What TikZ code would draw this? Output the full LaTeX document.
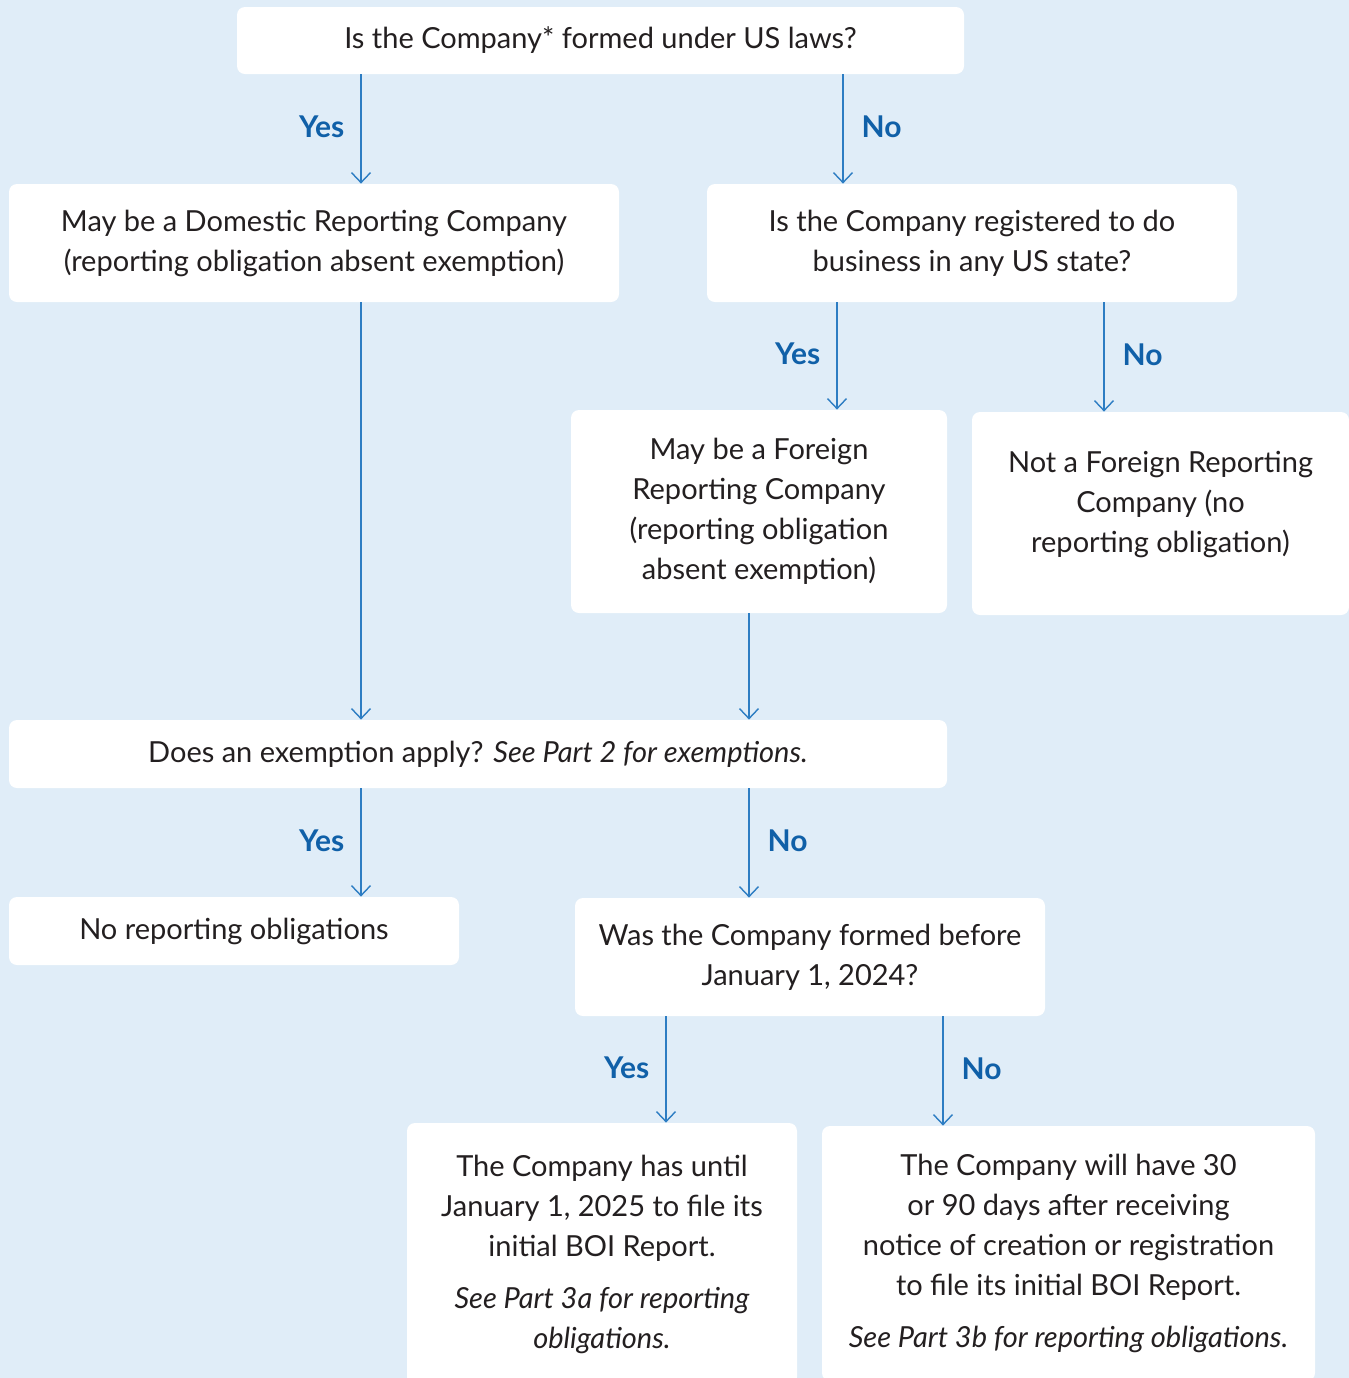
\documentclass[tikz,border=0pt]{standalone}
\usepackage{fontspec}
\setmainfont{Lato}
\usepackage{xcolor}
\usetikzlibrary{arrows.meta}
\usetikzlibrary{positioning}
\definecolor{bgblue}{HTML}{E0EDF8}
\definecolor{lblblue}{HTML}{1060A8}
\definecolor{lineblue}{HTML}{2D7DC3}
\definecolor{txtgray}{HTML}{231F20}
\tikzset{>={Straight Barb[length=5pt,width=9.5pt]}}
\tikzstyle{box} = [rectangle, fill=white, draw=none, rounded corners=4pt, align=center, text=txtgray, font=\fontsize{14.5}{20}\selectfont, inner sep=0]
\tikzstyle{arr} = [->, draw=lineblue, line width=0.7pt]
\tikzstyle{yes} = [left=8pt, yshift=1pt, inner sep=0, text=lblblue, font=\fontsize{15}{18}\selectfont\bfseries]
\tikzstyle{no} = [right=9pt, yshift=1pt, inner sep=0, text=lblblue, font=\fontsize{15}{18}\selectfont\bfseries]

\begin{document}
\begin{tikzpicture}[x=0.5pt, y=-0.5pt]
\useasboundingbox (0,0) rectangle (1349,1378);
\fill[bgblue] (0,0) rectangle (1349,1378);
% boxes
\node [box, minimum width=363.5pt, minimum height=33.5pt] (us) at (600.5,40.5) {Is the Company* formed under US laws?};
\node [box, minimum width=305pt, minimum height=59pt] (dom) at (314,243) {May be a Domestic Reporting Company\\(reporting obligation absent exemption)};
\node [box, minimum width=265pt, minimum height=59pt] (reg) at (972,243) {Is the Company registered to do\\business in any US state?};
\node [box, minimum width=188pt, minimum height=101.5pt] (frc) at (759,511.5) {May be a Foreign\\Reporting Company\\(reporting obligation\\absent exemption)};
\node [box, minimum width=188.5pt, minimum height=101.5pt, label={[box, yshift=4.5pt]center:{Not a Foreign Reporting\\Company (no\\reporting obligation)}}] (nfrc) at (1160.5,513.5) {};
\node [box, minimum width=469pt, minimum height=34pt] (exm) at (478,754) {Does an exemption apply? \textit{See Part 2 for exemptions.}};
\node [box, minimum width=225pt, minimum height=34pt] (none) at (234,931) {No reporting obligations};
\node [box, minimum width=235pt, minimum height=59pt] (bef) at (810,957) {Was the Company formed before\\January 1, 2024?};
\node [box, minimum width=195pt, minimum height=131pt] (old) at (602,1254) {The Company has until\\January 1, 2025 to file its\\initial BOI Report.\\[6pt]\textit{See Part 3a for reporting}\\\textit{obligations.}};
\node [box, minimum width=246.5pt, minimum height=127.5pt] (new) at (1068.5,1253.5) {The Company will have 30\\or 90 days after receiving\\notice of creation or registration\\to file its initial BOI Report.\\[6pt]\textit{See Part 3b for reporting obligations.}};
% arrows
\draw [arr] (361,0 |- us.south) -- (361,0 |- dom.north) node[midway, yes] {Yes};
\draw [arr] (843,0 |- us.south) -- (843,0 |- reg.north) node[midway, no] {No};
\draw [arr] (837,0 |- reg.south) -- (837,0 |- frc.north) node[midway, yes] {Yes};
\draw [arr] (1104,0 |- reg.south) -- (1104,0 |- nfrc.north) node[midway, no] {No};
\draw [arr] (361,0 |- dom.south) -- (361,0 |- exm.north);
\draw [arr] (749,0 |- frc.south) -- (749,0 |- exm.north);
\draw [arr] (361,0 |- exm.south) -- (361,0 |- none.north) node[midway, yes] {Yes};
\draw [arr] (749,0 |- exm.south) -- (749,0 |- bef.north) node[midway, no] {No};
\draw [arr] (666,0 |- bef.south) -- (666,0 |- old.north) node[midway, yes] {Yes};
\draw [arr] (943,0 |- bef.south) -- (943,0 |- new.north) node[midway, no] {No};
\end{tikzpicture}
\end{document}
